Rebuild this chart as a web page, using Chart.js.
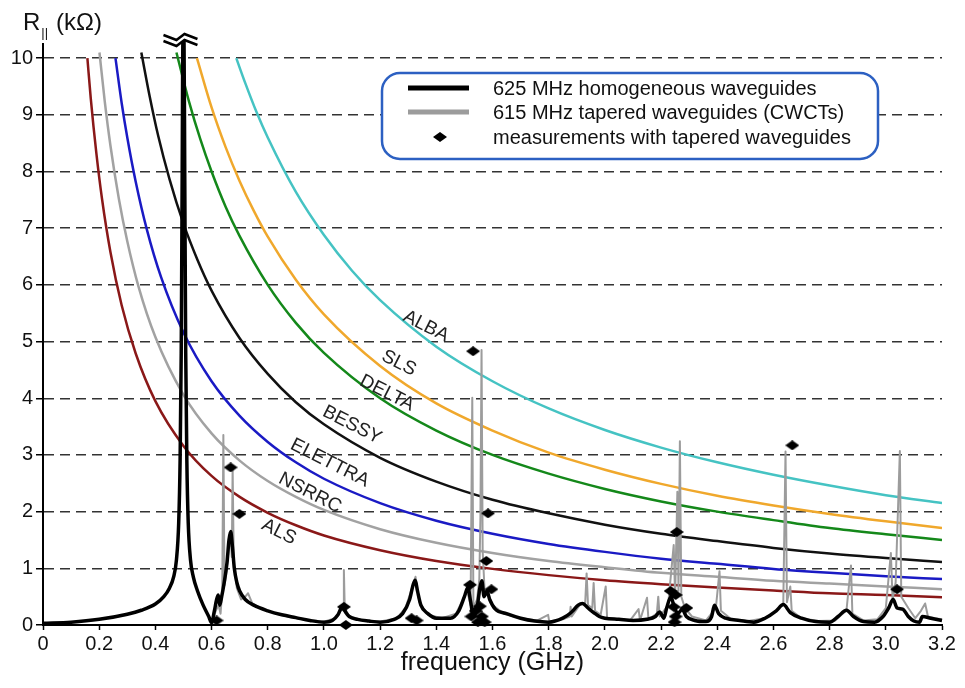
<!DOCTYPE html>
<html>
<head>
<meta charset="utf-8">
<script src="https://cdn.jsdelivr.net/npm/chart.js@4.4.1/dist/chart.umd.min.js"></script>
<style>
  html, body { margin: 0; padding: 0; background: #fff; }
  #wrap { width: 965px; height: 688px; }
</style>
</head>
<body>
<div id="wrap"><canvas id="chart"></canvas></div>
<script>
const fontFamily = "'Liberation Sans', Arial, sans-serif";

// axis ticks
const xTickValues = [0, 0.2, 0.4, 0.6, 0.8, 1.0, 1.2, 1.4, 1.6, 1.8, 2.0, 2.2, 2.4, 2.6, 2.8, 3.0, 3.2];
const xTickLabels = ['0', '0.2', '0.4', '0.6', '0.8', '1.0', '1.2', '1.4', '1.6', '1.8', '2.0', '2.2', '2.4', '2.6', '2.8', '3.0', '3.2'];
const yTickValues = [0, 1, 2, 3, 4, 5, 6, 7, 8, 9, 10];
const yTickLabels = ['0', '1', '2', '3', '4', '5', '6', '7', '8', '9', '10'];

// threshold curves, [frequency GHz, R kOhm]
const curveNames = ['ALBA', 'SLS', 'DELTA', 'BESSY', 'ELETTRA', 'NSRRC', 'ALS'];
const curveColors = ['#45c3c3', '#f0a82c', '#14881a', '#111111', '#1a1ac4', '#a2a2a2', '#8a1818'];
const albaCurve = [[0.688, 10], [0.72, 9.56], [0.76, 9.05], [0.8, 8.6], [0.9, 7.64], [1.0, 6.88], [1.1, 6.25], [1.2, 5.73], [1.4, 4.91], [1.6, 4.3], [1.8, 3.82], [2.0, 3.44], [2.2, 3.13], [2.4, 2.87], [2.6, 2.65], [2.8, 2.46], [3.0, 2.29], [3.2, 2.15]];
const slsCurve = [[0.548, 10], [0.6, 9.13], [0.65, 8.43], [0.7, 7.83], [0.75, 7.31], [0.8, 6.85], [0.9, 6.09], [1.0, 5.48], [1.2, 4.57], [1.4, 3.91], [1.6, 3.43], [1.8, 3.04], [2.0, 2.74], [2.2, 2.49], [2.4, 2.28], [2.6, 2.11], [2.8, 1.96], [3.0, 1.83], [3.2, 1.71]];
const deltaCurve = [[0.475, 10.1], [0.52, 9.23], [0.56, 8.57], [0.6, 8.0], [0.65, 7.38], [0.7, 6.86], [0.8, 6.0], [0.9, 5.33], [1.0, 4.8], [1.2, 4.0], [1.4, 3.43], [1.6, 3.0], [1.8, 2.67], [2.0, 2.4], [2.2, 2.18], [2.4, 2.0], [2.6, 1.85], [2.8, 1.71], [3.0, 1.6], [3.2, 1.5]];
const bessyCurve = [[0.35, 10.1], [0.38, 9.32], [0.41, 8.63], [0.45, 7.87], [0.5, 7.08], [0.55, 6.44], [0.6, 5.9], [0.7, 5.06], [0.8, 4.43], [0.9, 3.93], [1.0, 3.54], [1.2, 2.95], [1.4, 2.53], [1.6, 2.21], [1.8, 1.97], [2.0, 1.77], [2.2, 1.61], [2.4, 1.48], [2.6, 1.36], [2.8, 1.26], [3.0, 1.18], [3.2, 1.11]];
const elettraCurve = [[0.258, 10], [0.28, 9.21], [0.3, 8.6], [0.33, 7.82], [0.37, 6.97], [0.42, 6.14], [0.5, 5.16], [0.6, 4.3], [0.7, 3.69], [0.8, 3.23], [0.9, 2.87], [1.0, 2.58], [1.2, 2.15], [1.4, 1.84], [1.6, 1.61], [1.8, 1.43], [2.0, 1.29], [2.2, 1.17], [2.4, 1.08], [2.6, 0.99], [2.8, 0.92], [3.0, 0.86], [3.2, 0.81]];
const nsrrcCurve = [[0.201, 10.1], [0.22, 9.23], [0.24, 8.46], [0.27, 7.52], [0.3, 6.77], [0.34, 5.97], [0.4, 5.08], [0.5, 4.06], [0.6, 3.38], [0.7, 2.9], [0.8, 2.54], [0.9, 2.26], [1.0, 2.03], [1.2, 1.69], [1.4, 1.45], [1.6, 1.27], [1.8, 1.13], [2.0, 1.02], [2.2, 0.92], [2.4, 0.85], [2.6, 0.78], [2.8, 0.73], [3.0, 0.68], [3.2, 0.63]];
const alsCurve = [[0.158, 10], [0.17, 9.29], [0.19, 8.32], [0.21, 7.52], [0.24, 6.58], [0.28, 5.64], [0.33, 4.79], [0.4, 3.95], [0.5, 3.16], [0.6, 2.63], [0.7, 2.26], [0.8, 1.98], [0.9, 1.76], [1.0, 1.58], [1.2, 1.32], [1.4, 1.13], [1.6, 0.99], [1.8, 0.88], [2.0, 0.79], [2.2, 0.72], [2.4, 0.66], [2.6, 0.61], [2.8, 0.56], [3.0, 0.53], [3.2, 0.49]];
const curves = [albaCurve, slsCurve, deltaCurve, bessyCurve, elettraCurve, nsrrcCurve, alsCurve];
// where each curve name sits, [frequency, R]
const labelAnchors = [[1.363, 5.27], [1.267, 4.62], [1.224, 4.09], [1.100, 3.53], [1.021, 2.86], [0.950, 2.33], [0.840, 1.64]];

// 625 MHz homogeneous waveguides
const homogeneous = [
  [0.00, 0.03], [0.10, 0.05], [0.20, 0.10], [0.30, 0.19], [0.35, 0.26], [0.40, 0.37], [0.43, 0.50], [0.45, 0.65],
  [0.465, 0.85], [0.475, 1.15], [0.483, 1.8], [0.488, 2.9], [0.492, 4.8], [0.4955, 8.0], [0.498, 10.3], [0.502, 10.3],
  [0.5045, 8.0], [0.508, 4.8], [0.512, 2.9], [0.517, 1.8], [0.525, 1.15], [0.535, 0.85], [0.55, 0.6], [0.57, 0.35],
  [0.59, 0.15], [0.60, 0.04], [0.61, 0.25], [0.618, 0.45], [0.624, 0.53], [0.629, 0.35], [0.636, 0.5], [0.645, 0.75],
  [0.655, 1.1], [0.662, 1.5], [0.668, 1.65], [0.674, 1.4], [0.681, 1.0], [0.69, 0.75], [0.70, 0.6], [0.72, 0.45],
  [0.75, 0.35], [0.80, 0.25], [0.85, 0.18], [0.90, 0.13], [0.95, 0.08], [1.00, 0.05], [1.03, 0.08], [1.05, 0.18],
  [1.066, 0.33], [1.078, 0.22], [1.09, 0.15], [1.12, 0.1], [1.16, 0.07], [1.20, 0.05], [1.25, 0.1], [1.28, 0.2],
  [1.305, 0.45], [1.318, 0.72], [1.325, 0.79], [1.333, 0.6], [1.345, 0.35], [1.37, 0.2], [1.40, 0.12], [1.45, 0.12],
  [1.48, 0.25], [1.50, 0.5], [1.512, 0.66], [1.522, 0.42], [1.532, 0.15], [1.545, 0.3], [1.555, 0.65], [1.562, 0.78],
  [1.57, 0.5], [1.58, 0.6], [1.59, 0.45], [1.61, 0.28], [1.65, 0.2], [1.70, 0.12], [1.75, 0.07], [1.80, 0.05],
  [1.85, 0.12], [1.88, 0.22], [1.905, 0.35], [1.92, 0.38], [1.94, 0.3], [1.96, 0.22], [1.98, 0.15], [2.00, 0.12],
  [2.05, 0.1], [2.10, 0.08], [2.15, 0.1], [2.18, 0.15], [2.195, 0.23], [2.21, 0.12], [2.22, 0.3], [2.235, 0.5],
  [2.245, 0.35], [2.26, 0.2], [2.275, 0.28], [2.29, 0.15], [2.32, 0.08], [2.36, 0.06], [2.38, 0.15], [2.39, 0.35],
  [2.405, 0.2], [2.43, 0.12], [2.48, 0.08], [2.53, 0.05], [2.57, 0.12], [2.61, 0.25], [2.635, 0.36], [2.66, 0.22],
  [2.70, 0.12], [2.75, 0.06], [2.80, 0.05], [2.83, 0.15], [2.86, 0.26], [2.885, 0.15], [2.92, 0.06], [2.96, 0.05],
  [2.99, 0.15], [3.01, 0.3], [3.026, 0.45], [3.04, 0.3], [3.06, 0.28], [3.08, 0.15], [3.10, 0.07], [3.12, 0.05],
  [3.13, 0.15], [3.16, 0.12], [3.20, 0.08]
];

// 615 MHz tapered waveguides (CWCTs)
const tapered = [
  [0.600, 0.05], [0.615, 0.25], [0.625, 0.35], [0.632, 0.2], [0.638, 0.6], [0.642, 3.35], [0.646, 0.7], [0.652, 0.9],
  [0.660, 1.3], [0.668, 1.55], [0.672, 1.2], [0.675, 2.77], [0.679, 1.1], [0.690, 0.65], [0.705, 0.45], [0.720, 0.5],
  [0.730, 0.56], [0.745, 0.38], [0.780, 0.28], [0.830, 0.2], [0.880, 0.14], [0.940, 0.09], [1.000, 0.06], [1.040, 0.12],
  [1.060, 0.25], [1.068, 0.35], [1.071, 0.97], [1.074, 0.3], [1.090, 0.15], [1.140, 0.08], [1.200, 0.06], [1.260, 0.12],
  [1.290, 0.3], [1.310, 0.6], [1.326, 0.85], [1.340, 0.4], [1.370, 0.18], [1.420, 0.12], [1.470, 0.2], [1.495, 0.45],
  [1.510, 0.6], [1.522, 0.35], [1.528, 4.01], [1.532, 0.3], [1.545, 0.45], [1.553, 0.8], [1.557, 1.9], [1.561, 4.85],
  [1.565, 1.3], [1.572, 0.6], [1.585, 0.55], [1.600, 0.35], [1.640, 0.2], [1.700, 0.12], [1.760, 0.08], [1.798, 0.18],
  [1.802, 0.06], [1.850, 0.1], [1.875, 0.15], [1.878, 0.32], [1.882, 0.15], [1.910, 0.35], [1.930, 0.4], [1.935, 0.91],
  [1.940, 0.35], [1.955, 0.3], [1.960, 0.74], [1.965, 0.25], [1.985, 0.18], [2.003, 0.68], [2.008, 0.12], [2.050, 0.1],
  [2.090, 0.08], [2.120, 0.28], [2.125, 0.08], [2.150, 0.48], [2.155, 0.1], [2.185, 0.2], [2.190, 0.5], [2.195, 0.15],
  [2.225, 0.35], [2.245, 1.41], [2.250, 0.5], [2.258, 2.35], [2.262, 0.6], [2.267, 3.24], [2.272, 0.5], [2.285, 0.3],
  [2.310, 0.15], [2.360, 0.08], [2.395, 0.3], [2.408, 0.95], [2.413, 0.25], [2.450, 0.1], [2.510, 0.07], [2.570, 0.12],
  [2.610, 0.25], [2.635, 0.36], [2.643, 3.06], [2.648, 0.4], [2.660, 0.68], [2.665, 0.25], [2.700, 0.12], [2.760, 0.07],
  [2.820, 0.08], [2.860, 0.26], [2.876, 1.05], [2.881, 0.2], [2.920, 0.08], [2.970, 0.1], [3.000, 0.3], [3.018, 1.27],
  [3.024, 0.45], [3.035, 0.75], [3.050, 3.07], [3.055, 0.5], [3.080, 0.3], [3.105, 0.12], [3.125, 0.25], [3.140, 0.38],
  [3.150, 0.15], [3.175, 0.12], [3.200, 0.1]
];

// measurements with tapered waveguides
const measurements = [
  [0.618, 0.08], [0.668, 2.78], [0.699, 1.96], [1.071, 0.32], [1.078, 0.0], [1.312, 0.12], [1.330, 0.08],
  [1.520, 0.71], [1.525, 0.15], [1.531, 4.83], [1.540, 0.25], [1.548, 0.05], [1.555, 0.33], [1.562, 0.15],
  [1.572, 0.05], [1.578, 1.13], [1.584, 1.97], [1.596, 0.63], [2.234, 0.6], [2.245, 0.32], [2.248, 0.05],
  [2.252, 0.53], [2.252, 0.15], [2.256, 1.64], [2.290, 0.3], [2.667, 3.17], [3.040, 0.63]
];

const legendLabels = ['625 MHz homogeneous waveguides', '615 MHz tapered waveguides (CWCTs)', 'measurements with tapered waveguides'];

const toXY = pts => pts.map(([f, r]) => ({ x: f, y: r }));

// flattened diamond marker
const diamond = document.createElement('canvas');
diamond.width = 14; diamond.height = 10;
(function () {
  const c = diamond.getContext('2d');
  c.fillStyle = '#000';
  c.beginPath();
  c.moveTo(0, 5); c.lineTo(7, 0); c.lineTo(14, 5); c.lineTo(7, 10); c.closePath();
  c.fill();
})();

Chart.defaults.font.family = fontFamily;
Chart.defaults.color = '#111';

const overlay = {
  id: 'overlay',
  afterDatasetsDraw(chart) {
    const { ctx, chartArea, scales: { x, y } } = chart;
    // curve names
    ctx.save();
    ctx.font = '19px ' + fontFamily;
    ctx.fillStyle = '#222';
    ctx.textAlign = 'center';
    ctx.textBaseline = 'middle';
    curveNames.forEach((name, i) => {
      const [f, r] = labelAnchors[i];
      ctx.save();
      ctx.translate(x.getPixelForValue(f), y.getPixelForValue(r));
      ctx.rotate(27 * Math.PI / 180);
      ctx.fillText(name, 0, 0);
      ctx.restore();
    });
    ctx.restore();

    // break mark on top of the off-scale peak
    const bx = x.getPixelForValue(0.5) - 3;
    const by = chartArea.top - 4;
    const zig = [[-17, -2], [-4, 3], [4, -3], [17, 2]];
    ctx.save();
    ctx.beginPath();
    zig.forEach(([dx, dy], i) => i ? ctx.lineTo(bx + dx, by - 3 + dy) : ctx.moveTo(bx + dx, by - 3 + dy));
    zig.slice().reverse().forEach(([dx, dy]) => ctx.lineTo(bx + dx, by + 3 + dy));
    ctx.closePath();
    ctx.fillStyle = '#fff';
    ctx.fill();
    ctx.strokeStyle = '#000';
    ctx.lineWidth = 2.5;
    [-3, 3].forEach(off => {
      ctx.beginPath();
      zig.forEach(([dx, dy], i) => i ? ctx.lineTo(bx + dx, by + off + dy) : ctx.moveTo(bx + dx, by + off + dy));
      ctx.stroke();
    });
    ctx.restore();
  },
  afterDraw(chart) {
    const { ctx, chartArea } = chart;
    ctx.save();
    // legend box
    const lx = 382, ly = 73, lw = 496, lh = 86, rad = 18;
    ctx.beginPath();
    ctx.moveTo(lx + rad, ly);
    ctx.lineTo(lx + lw - rad, ly);
    ctx.arcTo(lx + lw, ly, lx + lw, ly + rad, rad);
    ctx.lineTo(lx + lw, ly + lh - rad);
    ctx.arcTo(lx + lw, ly + lh, lx + lw - rad, ly + lh, rad);
    ctx.lineTo(lx + rad, ly + lh);
    ctx.arcTo(lx, ly + lh, lx, ly + lh - rad, rad);
    ctx.lineTo(lx, ly + rad);
    ctx.arcTo(lx, ly, lx + rad, ly, rad);
    ctx.closePath();
    ctx.fillStyle = '#fff';
    ctx.fill();
    ctx.lineWidth = 2.5;
    ctx.strokeStyle = '#2c60c2';
    ctx.stroke();

    const rows = [ly + 15, ly + 39, ly + 64];
    ctx.lineWidth = 5;
    ctx.strokeStyle = '#000';
    ctx.beginPath(); ctx.moveTo(408, rows[0]); ctx.lineTo(469, rows[0]); ctx.stroke();
    ctx.strokeStyle = '#9c9c9c';
    ctx.beginPath(); ctx.moveTo(408, rows[1]); ctx.lineTo(469, rows[1]); ctx.stroke();
    ctx.drawImage(diamond, 440 - 7, rows[2] - 5);
    ctx.font = '20px ' + fontFamily;
    ctx.fillStyle = '#111';
    ctx.textBaseline = 'middle';
    ctx.textAlign = 'left';
    legendLabels.forEach((t, i) => ctx.fillText(t, 493, rows[i] + 1));

    // axis titles
    ctx.textBaseline = 'alphabetic';
    ctx.font = '24px ' + fontFamily;
    ctx.fillText('R', 23, 30);
    const rw = ctx.measureText('R').width;
    ctx.font = '13px ' + fontFamily;
    ctx.fillText('||', 23 + rw + 1, 37);
    ctx.font = '24px ' + fontFamily;
    ctx.fillText('(k\u03A9)', 56, 30);

    ctx.font = '25px ' + fontFamily;
    ctx.textAlign = 'center';
    ctx.textBaseline = 'middle';
    ctx.fillText('frequency (GHz)', (chartArea.left + chartArea.right) / 2, 663);
    ctx.restore();
  }
};

const curveSets = curves.map((c, i) => ({
  label: curveNames[i],
  data: toXY(c),
  borderColor: curveColors[i],
  borderWidth: 2.5,
  pointRadius: 0,
  cubicInterpolationMode: 'monotone',
  order: 3 + i
}));

new Chart(document.getElementById('chart'), {
  type: 'line',
  data: {
    datasets: [
      {
        label: legendLabels[2],
        data: toXY(measurements),
        showLine: false,
        pointStyle: diamond,
        pointRadius: 6,
        clip: false,
        order: 0
      },
      {
        label: legendLabels[0],
        data: toXY(homogeneous),
        borderColor: '#000',
        borderWidth: 3.5,
        pointRadius: 0,
        cubicInterpolationMode: 'monotone',
        borderJoinStyle: 'round',
        clip: { left: 2, top: 8, right: 2, bottom: 2 },
        order: 1
      },
      {
        label: legendLabels[1],
        data: toXY(tapered),
        borderColor: '#9c9c9c',
        borderWidth: 2,
        pointRadius: 0,
        borderJoinStyle: 'round',
        order: 2
      },
      ...curveSets
    ]
  },
  options: {
    responsive: true,
    maintainAspectRatio: false,
    animation: false,
    devicePixelRatio: 1,
    layout: { padding: { top: 44, right: 23, left: 0, bottom: 0 } },
    plugins: {
      legend: { display: false },
      tooltip: { enabled: false }
    },
    scales: {
      x: {
        type: 'linear',
        min: 0,
        max: 3.2,
        afterBuildTicks: s => { s.ticks = xTickValues.map(v => ({ value: v })); },
        afterFit: s => { s.height = 63; },
        ticks: {
          callback: (v, i) => xTickLabels[i],
          font: { size: 20 },
          color: '#111',
          padding: 2,
          maxRotation: 0,
          autoSkip: false
        },
        grid: { drawOnChartArea: false, drawTicks: true, tickLength: 5, tickColor: '#000', tickWidth: 1.5 },
        border: { color: '#000', width: 2 }
      },
      y: {
        type: 'linear',
        min: 0,
        max: 10.25,
        afterBuildTicks: s => { s.ticks = yTickValues.map(v => ({ value: v })); },
        afterFit: s => { s.width = 43; },
        ticks: {
          callback: (v, i) => yTickLabels[i],
          font: { size: 20 },
          color: '#111',
          padding: 3
        },
        grid: {
          color: c => (c.tick && c.tick.value === 0) ? 'rgba(0,0,0,0)' : '#333',
          lineWidth: 1.5,
          tickColor: '#000',
          tickLength: 7,
          tickWidth: 1.5,
          tickBorderDash: []
        },
        border: { color: '#000', width: 2, dash: [10, 6] }
      }
    }
  },
  plugins: [overlay]
});
</script>
</body>
</html>
